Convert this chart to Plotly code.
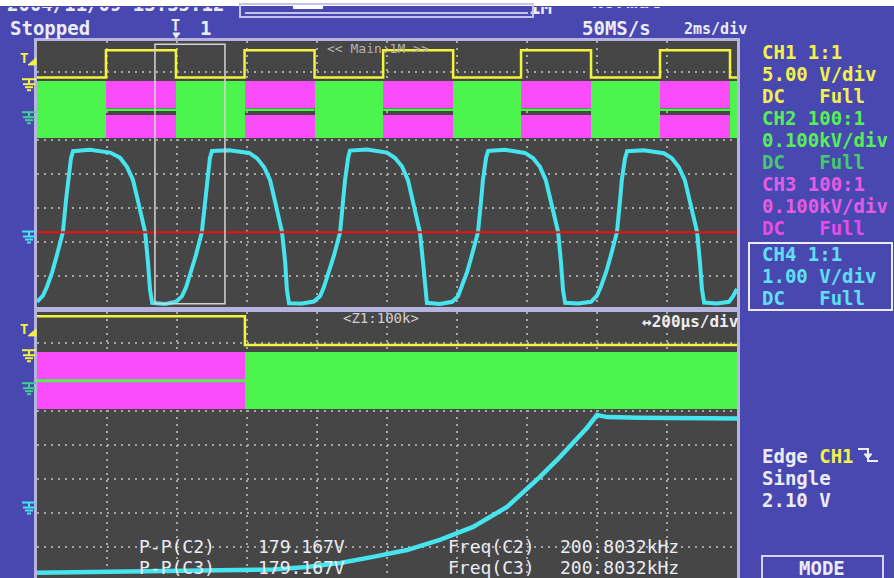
import plotly.graph_objects as go

W, H = 894, 578

# ------------------------------------------------------------------ data
# Main record (upper window): time in ms, 2 ms/div x 10 div
main_span_ms = [0.0, 20.0]
ch1_rise_ms = [1.97, 5.93, 9.89, 13.83, 17.80]
ch1_fall_ms = [3.97, 7.93, 11.89, 15.83, 19.80]
ch1_low_v = 0.7
ch1_high_v = 4.7

# CH2 / CH3 switching envelopes (V)
pwm_top_v = 100.0
pwm_bottom_v = -67.0
ch3_gap_v = [1.0, 21.0]
ch2_idle_v = 16.0

# CH4 (main record)
ch4_main_t_ms = [
    0.00, 0.17, 0.29, 0.43, 0.57, 0.74, 0.83, 0.89, 0.97, 1.03, 1.51, 2.09,
    2.37, 2.57, 2.74, 2.86, 2.97, 3.09, 3.17, 3.23, 3.29, 3.66,
    3.97, 4.14, 4.26, 4.40, 4.54, 4.71, 4.80, 4.86, 4.94, 5.00, 5.49, 6.06,
    6.29, 6.49, 6.66, 6.77, 6.89, 7.00, 7.09, 7.14, 7.20, 7.57,
    7.91, 8.09, 8.20, 8.34, 8.49, 8.66, 8.74, 8.80, 8.89, 8.94, 9.43, 10.00,
    10.23, 10.43, 10.60, 10.71, 10.83, 10.94, 11.03, 11.09, 11.14, 11.51,
    11.86, 12.03, 12.14, 12.29, 12.43, 12.60, 12.69, 12.74, 12.83, 12.89, 13.37, 13.94,
    14.17, 14.37, 14.54, 14.66, 14.77, 14.89, 14.97, 15.03, 15.09, 15.46,
    15.83, 16.00, 16.11, 16.26, 16.40, 16.57, 16.66, 16.71, 16.80, 16.86, 17.34, 17.91,
    18.14, 18.34, 18.51, 18.63, 18.74, 18.86, 18.94, 19.00, 19.06, 19.43,
    19.77, 19.89, 20.00,
]
ch4_main_v = [
    -1.98, -1.80, -1.52, -1.12, -0.60, 0.07, 1.02, 1.60, 2.24, 2.45, 2.49, 2.41,
    2.26, 1.99, 1.61, 1.10, 0.57, 0.07, -0.81, -1.63, -2.01, -2.04,
    -1.98, -1.82, -1.55, -1.10, -0.61, 0.07, 1.03, 1.61, 2.25, 2.46, 2.48, 2.40,
    2.24, 1.98, 1.60, 1.11, 0.58, 0.07, -0.80, -1.62, -2.02, -2.03,
    -1.97, -1.81, -1.54, -1.09, -0.60, 0.07, 1.01, 1.59, 2.26, 2.47, 2.50, 2.41,
    2.25, 2.00, 1.60, 1.10, 0.56, 0.07, -0.82, -1.63, -2.01, -2.04,
    -1.98, -1.81, -1.53, -1.10, -0.59, 0.07, 1.02, 1.60, 2.25, 2.46, 2.49, 2.40,
    2.25, 1.99, 1.59, 1.09, 0.57, 0.07, -0.81, -1.64, -2.01, -2.03,
    -1.98, -1.80, -1.54, -1.11, -0.60, 0.07, 1.02, 1.61, 2.24, 2.45, 2.48, 2.39,
    2.24, 1.98, 1.60, 1.10, 0.57, 0.07, -0.80, -1.62, -2.00, -2.03,
    -1.98, -1.81, -1.60,
]

# Zoom record (lower window): time in us, 200 us/div x 10 div
zoom_span_us = [0.0, 2000.0]
zoom_start_ms = 3.37
ch1_zoom_fall_us = 594.0
ch1_zoom_high_v = 5.45
ch1_zoom_low_v = 1.2
ch4_zoom_t_us = [0, 180, 466, 580, 674, 771, 866, 960, 1057, 1151, 1246, 1343,
                 1389, 1437, 1486, 1531, 1571, 1600, 1629, 1720, 1817, 1910, 2000]
ch4_zoom_v = [-1.98, -1.96, -1.93, -1.90, -1.88, -1.81, -1.69, -1.51, -1.31, -1.01,
              -0.63, -0.04, 0.37, 0.84, 1.34, 1.84, 2.28, 2.66, 2.60, 2.58, 2.57,
              2.59, 2.56]

# Channel settings: position (div) and scale (V/div)
ch1_pos_div, ch1_vdiv = 2.70, 5.0
ch23_pos_div, ch23_vdiv = 1.73, 100.0
ch4_pos_div, ch4_vdiv = -1.78, 1.0
trigger_level_v = 2.10
ref_level_v = 0.07

# Text content
header_date = "2004/11/09 13:35:12"
status_text = "Stopped"
sample_rate = "50MS/s"
timebase = "2ms/div"
zoom_timebase = "↔200µs/div"
main_label = "<< Main:1M >>"
zoom_label = "<Z1:100k>"
meas_names = ["P-P(C2)", "P-P(C3)"]
meas_vals = ["179.167V", "179.167V"]
freq_names = ["Freq(C2)", "Freq(C3)"]
freq_vals = ["200.8032kHz", "200.8032kHz"]
channel_info = [
    ("CH1 1:1", "ch1"), ("5.00 V/div", "ch1"), ("DC   Full", "ch1"),
    ("CH2 100:1", "ch2"), ("0.100kV/div", "ch2"), ("DC   Full", "ch2d"),
    ("CH3 100:1", "ch3"), ("0.100kV/div", "ch3"), ("DC   Full", "ch3d"),
    ("CH4 1:1", "ch4"), ("1.00 V/div", "ch4"), ("DC   Full", "ch4"),
]
trigger_info = ["Single", "2.10 V"]

# ------------------------------------------------------------------ styles
BLUE = "#4848b0"
PLOT = "#464646"
FRAME = "#b4b4de"
GRID = "#a6a6a6"
YEL = "#f4f43c"
GRN = "#4cf54c"
MAG = "#fa4cfa"
CYA = "#46e4ee"
RED = "#ee1010"
GGRN = "#3fcf90"
WHITE = "#ececf4"
text_colors = {"ch1": "#f2f24a", "ch2": "#55f055", "ch2d": "#44cc66",
               "ch3": "#e45ce4", "ch3d": "#e84ce8", "ch4": "#5fe0f4"}
FONT = "DejaVu Sans Mono"


def px_x(px):
    return px / W


def px_y(py):
    return 1 - py / H


def d1(v):
    return ch1_pos_div + v / ch1_vdiv


def d23(v):
    return ch23_pos_div + v / ch23_vdiv


def d4(v):
    return ch4_pos_div + v / ch4_vdiv


fig = go.Figure()


def band(starts, ends, lo_v, hi_v, color, xa, ya):
    n = len(starts)
    fig.add_trace(go.Bar(
        x=starts, width=[e - s for s, e in zip(starts, ends)], offset=0,
        base=[d23(lo_v)] * n, y=[d23(hi_v) - d23(lo_v)] * n,
        marker=dict(color=color, line=dict(width=0)),
        xaxis=xa, yaxis=ya, hoverinfo="skip", showlegend=False))


def line(x, y, color, width, xa, ya):
    fig.add_trace(go.Scatter(x=x, y=y, mode="lines", line=dict(color=color, width=width),
                             xaxis=xa, yaxis=ya, hoverinfo="skip", showlegend=False))


# ---- upper window
green_starts = [main_span_ms[0]] + ch1_fall_ms
green_ends = ch1_rise_ms + [main_span_ms[1]]
band(green_starts, green_ends, pwm_bottom_v, pwm_top_v, GRN, "x", "y")
band(ch1_rise_ms, ch1_fall_ms, ch3_gap_v[1], pwm_top_v, MAG, "x", "y")
band(ch1_rise_ms, ch1_fall_ms, pwm_bottom_v, ch3_gap_v[0], MAG, "x", "y")
gx, gy = [], []
for r, f in zip(ch1_rise_ms, ch1_fall_ms):
    gx += [r, f, None]
    gy += [d23(ch2_idle_v), d23(ch2_idle_v), None]
line(gx, gy, GRN, 2.5, "x", "y")

cx, cy = [main_span_ms[0]], [d1(ch1_low_v)]
for r, f in zip(ch1_rise_ms, ch1_fall_ms):
    cx += [r, r, f, f]
    cy += [d1(ch1_low_v), d1(ch1_high_v), d1(ch1_high_v), d1(ch1_low_v)]
cx.append(main_span_ms[1])
cy.append(d1(ch1_low_v))
line(cx, cy, YEL, 2.5, "x", "y")

line(ch4_main_t_ms, [d4(v) for v in ch4_main_v], CYA, 4, "x", "y")
line(main_span_ms, [d4(ref_level_v)] * 2, RED, 2, "x", "y")

# ---- lower window
band([zoom_span_us[0]], [ch1_zoom_fall_us], pwm_bottom_v, pwm_top_v, MAG, "x2", "y2")
band([ch1_zoom_fall_us], [zoom_span_us[1]], pwm_bottom_v, pwm_top_v, GRN, "x2", "y2")
line([zoom_span_us[0], ch1_zoom_fall_us], [d23(ch2_idle_v)] * 2, GRN, 3, "x2", "y2")
line([zoom_span_us[0], ch1_zoom_fall_us, ch1_zoom_fall_us, zoom_span_us[1]],
     [d1(ch1_zoom_high_v), d1(ch1_zoom_high_v), d1(ch1_zoom_low_v), d1(ch1_zoom_low_v)],
     YEL, 2.5, "x2", "y2")
line(ch4_zoom_t_us, [d4(v) for v in ch4_zoom_v], CYA, 4.5, "x2", "y2")

# ---- header text (clipped by the top of the screen)
fig.add_trace(go.Scatter(
    x=[7, 592, 529], y=[6.5, 3.5, 9.5], mode="text",
    text=[f"<b>{header_date}</b>", "<b>Normal</b>", "<b>1M</b>"],
    textposition="middle right",
    textfont=dict(family=FONT, size=19, color=WHITE),
    xaxis="x3", yaxis="y3", hoverinfo="skip", showlegend=False, cliponaxis=True))

# ------------------------------------------------------------------ layout
xdom = [px_x(37), px_x(737)]
top_dom = [px_y(307), px_y(41)]
bot_dom = [0.0, px_y(312)]
half = 133 / 34

axis_common = dict(showgrid=True, gridcolor=GRID, griddash="2px,5px", gridwidth=2,
                   zeroline=False, showticklabels=False, ticks="", showline=True,
                   linecolor=FRAME, linewidth=3, mirror=True, fixedrange=True)

layout = dict(
    width=W, height=H, margin=dict(l=0, r=0, t=0, b=0),
    paper_bgcolor=BLUE, plot_bgcolor="rgba(0,0,0,0)",
    barmode="overlay", bargap=0, showlegend=False,
    xaxis=dict(domain=xdom, range=main_span_ms, dtick=2, tick0=0, anchor="y", **axis_common),
    yaxis=dict(domain=top_dom, range=[-half, half], dtick=1, tick0=0, anchor="x", **axis_common),
    xaxis2=dict(domain=xdom, range=zoom_span_us, dtick=200, tick0=0, anchor="y2", **axis_common),
    yaxis2=dict(domain=bot_dom, range=[-half, half], dtick=1, tick0=0, anchor="x2", **axis_common),
    xaxis3=dict(domain=[0, 1], range=[0, W], visible=False, anchor="y3", fixedrange=True),
    yaxis3=dict(domain=[px_y(40), px_y(7)], range=[40, 7], visible=False, anchor="x3",
                fixedrange=True),
)
fig.update_layout(**layout)

shapes = []
# panel backgrounds
for xr, yr in (("x", "y"), ("x2", "y2")):
    shapes.append(dict(type="rect", xref=f"{xr} domain", yref=f"{yr} domain",
                       x0=0, x1=1, y0=0, y1=1, fillcolor=PLOT, line=dict(width=0),
                       layer="below"))
# strip between windows
shapes.append(dict(type="rect", xref="paper", yref="paper", x0=px_x(35), x1=px_x(739),
                   y0=px_y(312), y1=px_y(307), fillcolor="#9c9cd2", line=dict(width=0),
                   layer="below"))
# white strip on top
shapes.append(dict(type="rect", xref="paper", yref="paper", x0=0, x1=1, y0=px_y(6), y1=1,
                   fillcolor="white", line=dict(width=0), layer="below"))
# record length bar
shapes.append(dict(type="rect", xref="paper", yref="paper", x0=px_x(240), x1=px_x(533),
                   y0=px_y(17), y1=px_y(4), line=dict(color="#c4c4ea", width=2),
                   fillcolor="rgba(0,0,0,0)", layer="above"))
shapes.append(dict(type="line", xref="paper", yref="paper", x0=px_x(245), x1=px_x(528),
                   y0=px_y(13), y1=px_y(13), line=dict(color="#c4c4ea", width=2)))
shapes.append(dict(type="rect", xref="paper", yref="paper", x0=px_x(293), x1=px_x(323),
                   y0=px_y(9), y1=px_y(5), fillcolor="white", line=dict(width=0)))
# zoom window box in the main record
shapes.append(dict(type="rect", xref="x", yref="y domain", x0=zoom_start_ms,
                   x1=zoom_start_ms + (zoom_span_us[1] - zoom_span_us[0]) / 1000.0,
                   y0=0.012, y1=0.988, line=dict(color="#d4d4d4", width=1.5),
                   fillcolor="rgba(0,0,0,0)", layer="above"))


def ground(yref, level, color):
    base = dict(xref="paper", xsizemode="pixel", xanchor=0, yref=yref,
                ysizemode="pixel", yanchor=level, line=dict(color=color, width=2))
    segs = [(22, 36, 3, 3), (29, 29, 3, -2), (23, 35, -2, -2), (25, 33, -5, -5),
            (27, 31, -8, -8)]
    for x0, x1, y0, y1 in segs:
        shapes.append(dict(type="line", x0=x0, x1=x1, y0=y0, y1=y1, **base))


def trig(yref, level):
    shapes.append(dict(type="path", xref="paper", xsizemode="pixel", xanchor=0,
                       yref=yref, ysizemode="pixel", yanchor=level,
                       path="M 28,3 L 36,3 L 36,10 Z", fillcolor=YEL,
                       line=dict(color=YEL, width=1)))


for yr in ("y", "y2"):
    trig(yr, d1(trigger_level_v))
    ground(yr, d1(0), YEL)
    ground(yr, d23(0), GGRN)
    ground(yr, d4(0), CYA)

# CH4 selection box and MODE box
shapes.append(dict(type="rect", xref="paper", yref="paper", x0=px_x(749), x1=px_x(892),
                   y0=px_y(310), y1=px_y(243), line=dict(color="#ececf8", width=2)))
shapes.append(dict(type="rect", xref="paper", yref="paper", x0=px_x(762), x1=px_x(883),
                   y0=px_y(582), y1=px_y(556), line=dict(color="#d4d4f0", width=2)))
# trigger slope symbol (falling edge)
shapes.append(dict(type="path", xref="paper", yref="paper",
                   path=(f"M {px_x(858)},{px_y(449)} L {px_x(868)},{px_y(449)} "
                         f"L {px_x(868)},{px_y(461)} L {px_x(878)},{px_y(461)}"),
                   line=dict(color=WHITE, width=2)))
shapes.append(dict(type="path", xref="paper", yref="paper",
                   path=(f"M {px_x(864)},{px_y(454)} L {px_x(872)},{px_y(454)} "
                         f"L {px_x(868)},{px_y(459)} Z"),
                   fillcolor=WHITE, line=dict(color=WHITE, width=1)))
# trigger position marker in the header
shapes.append(dict(type="path", xref="paper", yref="paper",
                   path=(f"M {px_x(173)},{px_y(33)} L {px_x(180)},{px_y(33)} "
                         f"L {px_x(176)},{px_y(38)} Z"),
                   fillcolor=WHITE, line=dict(color=WHITE, width=1)))
fig.update_layout(shapes=shapes)

ann = []


def txt(x, y, s, color=WHITE, size=19, bold=True, xanchor="left", yref="paper", yshift=0):
    ann.append(dict(x=px_x(x), y=px_y(y) if yref == "paper" else y, xref="paper", yref=yref,
                    text=f"<b>{s}</b>" if bold else s, showarrow=False, xanchor=xanchor,
                    yanchor="middle", yshift=yshift,
                    font=dict(family=FONT, size=size, color=color)))


txt(8, 28, status_text)
txt(169, 26, "T", size=15)
txt(198, 28, "1")
txt(580, 28, sample_rate)
txt(682, 29, timebase, size=15)

rows = [52, 74, 96, 118, 140, 162, 184, 206, 228, 254, 276, 298]
for (s, key), yy in zip(channel_info, rows):
    txt(760, yy, s, color=text_colors[key])
txt(760, 456, f"Edge <span style='color:{text_colors['ch1']}'>CH1</span>")
txt(760, 478, trigger_info[0])
txt(760, 500, trigger_info[1])
txt(822, 568, "MODE", xanchor="center")

txt(378, 49, main_label, color="#b4b4b4", size=13, bold=False, xanchor="center")
txt(381, 318, zoom_label, color="#d0d0d0", size=14, bold=False, xanchor="center")
txt(741, 321, zoom_timebase, size=16, xanchor="right")

for i, yy in enumerate([546, 567]):
    txt(137, yy, meas_names[i], size=18, bold=False)
    txt(256, yy, meas_vals[i], size=18, bold=False)
    txt(446, yy, freq_names[i], size=18, bold=False)
    txt(558, yy, freq_vals[i], size=18, bold=False)

for yr in ("y", "y2"):
    ann.append(dict(x=px_x(18), y=d1(trigger_level_v), xref="paper", yref=yr,
                    text="<b>T</b>", showarrow=False, xanchor="left", yanchor="middle",
                    yshift=10, font=dict(family=FONT, size=14, color=YEL)))

fig.update_layout(annotations=ann)

fig.write_html("out.html", config={"displayModeBar": False},
               post_script="document.body.style.margin='0px';"
                           "document.body.style.overflow='hidden';")
